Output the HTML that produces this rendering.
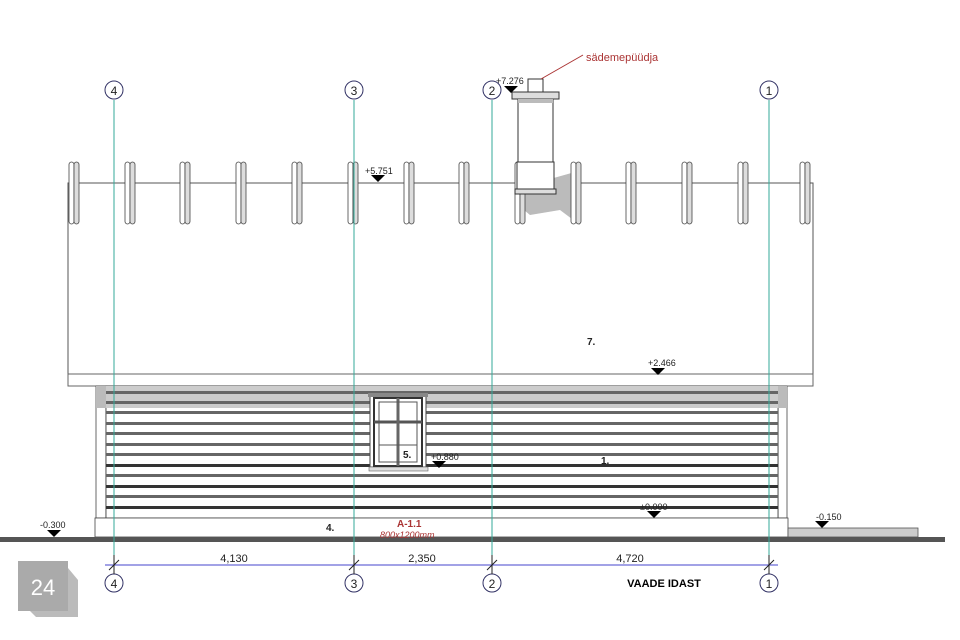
<!DOCTYPE html>
<html><head><meta charset="utf-8"><style>
body{margin:0;background:#fff}
svg{display:block;font-family:"Liberation Sans",sans-serif}
</style></head><body>
<svg width="960" height="640" viewBox="0 0 960 640" xmlns="http://www.w3.org/2000/svg">
<rect width="960" height="640" fill="#fff"/>
<defs>
<g id="r"><rect x="69" y="162" width="5" height="62" rx="2.5" fill="#fff" stroke="#444" stroke-width="0.8"/><rect x="74" y="162" width="5" height="62" rx="2.5" fill="#ddd" stroke="#444" stroke-width="0.8"/></g>
</defs>
<!-- roof -->
<rect x="68" y="183" width="745" height="191" fill="#fff" stroke="#555" stroke-width="1"/>
<rect x="68" y="374" width="745" height="12" fill="#fff" stroke="#666" stroke-width="1"/>
<!-- chimney shadow -->
<polygon points="518,188 575,172 580,225 560,210 530,215 518,205" fill="#bbb"/>
<!-- rafters -->
<use href="#r"/><use href="#r" x="56"/><use href="#r" x="111"/><use href="#r" x="167"/><use href="#r" x="223"/><use href="#r" x="279"/><use href="#r" x="335"/><use href="#r" x="390"/><use href="#r" x="446"/><use href="#r" x="502"/><use href="#r" x="557"/><use href="#r" x="613"/><use href="#r" x="669"/><use href="#r" x="731"/>
<!-- wall -->
<rect x="96" y="386" width="10" height="132" fill="#fff" stroke="#444" stroke-width="0.8"/>
<rect x="778" y="386" width="9" height="132" fill="#fff" stroke="#444" stroke-width="0.8"/>
<rect x="106" y="386" width="672" height="132" fill="#fff" stroke="#333" stroke-width="0.8"/>
<rect x="96" y="386" width="10" height="22" fill="#bbb"/>
<rect x="778" y="386" width="9" height="22" fill="#bbb"/>
<rect x="106" y="386" width="672" height="22" fill="#ccc"/>
<g fill="#666">
<rect x="106" y="391" width="672" height="3"/>
<rect x="106" y="401" width="672" height="3"/>
<rect x="106" y="411" width="672" height="3"/>
<rect x="106" y="422" width="672" height="3"/>
<rect x="106" y="432" width="672" height="3"/>
<rect x="106" y="443" width="672" height="3"/>
<rect x="106" y="453" width="672" height="3"/>
<rect x="106" y="464" width="672" height="3" fill="#333"/>
<rect x="106" y="474" width="672" height="3"/>
<rect x="106" y="485" width="672" height="3" fill="#333"/>
<rect x="106" y="495" width="672" height="3"/>
<rect x="106" y="506" width="672" height="3" fill="#333"/>
</g>
<!-- plinth -->
<rect x="95" y="518" width="693" height="19" fill="#fff" stroke="#444" stroke-width="0.8"/>
<rect x="788" y="528" width="130" height="9" fill="#ccc" stroke="#555" stroke-width="0.8"/>
<rect x="0" y="537" width="945" height="5" fill="#555"/>
<!-- window -->
<rect x="370" y="395" width="56" height="72" fill="#fff" stroke="#444"/>
<rect x="368" y="393" width="60" height="4" fill="#888"/>
<rect x="369" y="467" width="59" height="4" fill="#ddd" stroke="#666" stroke-width="0.6"/>
<rect x="374" y="398" width="48" height="68" fill="none" stroke="#333" stroke-width="2"/>
<line x1="374" y1="422" x2="422" y2="422" stroke="#555" stroke-width="3"/>
<line x1="398" y1="398" x2="398" y2="466" stroke="#666" stroke-width="3"/>
<rect x="379" y="402" width="38" height="60" fill="none" stroke="#555" stroke-width="1"/>
<line x1="379" y1="445" x2="417" y2="445" stroke="#555"/>
<!-- chimney -->
<rect x="528" y="79" width="15" height="13" fill="#fff" stroke="#333"/>
<rect x="512" y="92" width="47" height="7" fill="#ddd" stroke="#333"/>
<rect x="518" y="99" width="35" height="63" fill="#fff" stroke="#333"/>
<rect x="518" y="99" width="35" height="4" fill="#bbb"/>
<rect x="517" y="162" width="37" height="27" fill="#fff" stroke="#333"/>
<rect x="515" y="189" width="41" height="5" fill="#ddd" stroke="#333"/>
<line x1="541" y1="79" x2="583" y2="55" stroke="#a33"/>
<text x="586" y="61" font-size="11" fill="#a33">sädemepüüdja</text>
<!-- grid lines -->
<g stroke="#3a9" stroke-width="1">
<line x1="114" y1="100" x2="114" y2="555"/><line x1="354" y1="100" x2="354" y2="555"/>
<line x1="492" y1="100" x2="492" y2="555"/><line x1="769" y1="100" x2="769" y2="555"/>
</g>
<g fill="#fff" stroke="#336" stroke-width="1">
<circle cx="114" cy="90" r="9"/><circle cx="354" cy="90" r="9"/><circle cx="492" cy="90" r="9"/><circle cx="769" cy="90" r="9"/>
<circle cx="114" cy="583" r="9"/><circle cx="354" cy="583" r="9"/><circle cx="492" cy="583" r="9"/><circle cx="769" cy="583" r="9"/>
</g>
<g font-size="12" text-anchor="middle" fill="#222">
<text x="114" y="95">4</text><text x="354" y="95">3</text><text x="492" y="95">2</text><text x="769" y="95">1</text>
<text x="114" y="588">4</text><text x="354" y="588">3</text><text x="492" y="588">2</text><text x="769" y="588">1</text>
</g>
<!-- dimension -->
<line x1="105" y1="565" x2="778" y2="565" stroke="#44c" stroke-width="1"/>
<g stroke="#222"><line x1="109" y1="570" x2="119" y2="560"/><line x1="349" y1="570" x2="359" y2="560"/><line x1="487" y1="570" x2="497" y2="560"/><line x1="764" y1="570" x2="774" y2="560"/>
<line x1="114" y1="555" x2="114" y2="574"/><line x1="354" y1="555" x2="354" y2="574"/><line x1="492" y1="555" x2="492" y2="574"/><line x1="769" y1="555" x2="769" y2="574"/></g>
<g font-size="11" fill="#222" text-anchor="middle">
<text x="234" y="562">4,130</text><text x="422" y="562">2,350</text><text x="630" y="562">4,720</text>
</g>
<text x="664" y="587" font-size="11" font-weight="bold" text-anchor="middle">VAADE IDAST</text>
<!-- levels -->
<g fill="#000">
<polygon points="47,530 61,530 54,537"/><polygon points="815,521 829,521 822,528"/>
<polygon points="647,511 661,511 654,518"/><polygon points="651,368 665,368 658,375"/>
<polygon points="371,175 385,175 378,182"/><polygon points="432,461 446,461 439,468"/>
<polygon points="504,86 518,86 511,93"/>
</g>
<g font-size="9" fill="#222">
<text x="40" y="528">-0.300</text><text x="816" y="520">-0.150</text><text x="640" y="510">±0.000</text>
<text x="648" y="366">+2.466</text><text x="365" y="174">+5.751</text><text x="431" y="460">+0.880</text>
<text x="496" y="84">+7.276</text>
</g>
<g font-size="10" font-weight="bold" fill="#222">
<text x="587" y="345">7.</text><text x="601" y="464">1.</text><text x="403" y="458">5.</text><text x="326" y="531">4.</text>
</g>
<text x="397" y="527" font-size="10" font-weight="bold" fill="#a33">A-1.1</text>
<text x="380" y="538" font-size="9" font-style="italic" fill="#a33">800x1200mm</text>
<!-- page number -->
<polygon points="26,568 68,568 78,580 78,617 36,617 26,607" fill="#bbb"/>
<rect x="18" y="561" width="50" height="50" fill="#aaa"/>
<text x="43" y="595" font-size="22" fill="#fff" text-anchor="middle">24</text>
</svg>
</body></html>
